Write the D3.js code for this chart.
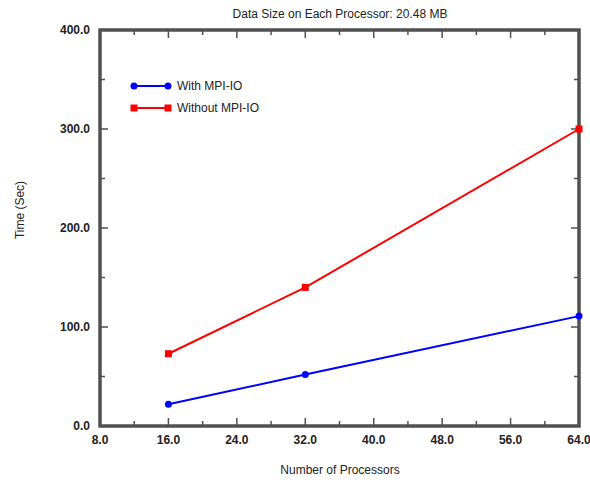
<!DOCTYPE html>
<html>
<head>
<meta charset="utf-8">
<script src="https://cdn.jsdelivr.net/npm/d3@7"></script>
<style>
  body { margin: 0; background: #fff; }
  text { font-family: "Liberation Sans", "DejaVu Sans", sans-serif; fill: #222; }
</style>
</head>
<body>
<div id="chart"></div>
<script>
// Data
var processors = [16, 32, 64];
var with_mpiio = [22, 52, 111];
var without_mpiio = [73, 140, 300];
var series_names = ['With MPI-IO', 'Without MPI-IO'];
var series_colors = ['#0000ff', '#ff0000'];
var x_ticks = [8, 16, 24, 32, 40, 48, 56, 64];
var y_ticks = [0, 100, 200, 300, 400];

var width = 590, height = 483;
var margin = { left: 100, right: 11, top: 30, bottom: 57 };
var plot_w = width - margin.left - margin.right;
var plot_h = height - margin.top - margin.bottom;

var svg = d3.select( '#chart' ).append( 'svg' )
  .attr( 'width', width )
  .attr( 'height', height );

var g = svg.append( 'g' )
  .attr( 'transform', 'translate(' + margin.left + ',' + margin.top + ')' );

var x = d3.scaleLinear().domain( [8, 64] ).range( [0, plot_w] );
var y = d3.scaleLinear().domain( [0, 400] ).range( [plot_h, 0] );

var axis_color = '#505050';
var fmt = d3.format( '.1f' );

// Minor ticks every half major step
var x_minor = d3.range( 8, 64.1, 4 );
var y_minor = d3.range( 0, 400.1, 50 );

// Inward ticks on all four sides
function draw_ticks( vals, scale, horiz, at, dir ){
  vals.forEach( function( v ){
    var major = horiz ? ( v % 8 == 0 ) : ( v % 100 == 0 );
    var len = major ? 8 : 5;
    if( horiz ){
      g.append( 'line' )
        .attr( 'x1', scale( v ) ).attr( 'x2', scale( v ) )
        .attr( 'y1', at ).attr( 'y2', at + dir * len )
        .attr( 'stroke', axis_color ).attr( 'stroke-width', 1.5 );
    } else {
      g.append( 'line' )
        .attr( 'y1', scale( v ) ).attr( 'y2', scale( v ) )
        .attr( 'x1', at ).attr( 'x2', at + dir * len )
        .attr( 'stroke', axis_color ).attr( 'stroke-width', 1.5 );
    }
  });
}
draw_ticks( x_minor, x, true, plot_h, -1 );
draw_ticks( x_minor, x, true, 0, 1 );
draw_ticks( y_minor, y, false, 0, 1 );
draw_ticks( y_minor, y, false, plot_w, -1 );

// Frame
g.append( 'rect' )
  .attr( 'x', 0 ).attr( 'y', 0 )
  .attr( 'width', plot_w ).attr( 'height', plot_h )
  .attr( 'fill', 'none' )
  .attr( 'stroke', axis_color )
  .attr( 'stroke-width', 3.5 );

// Tick labels
g.selectAll( '.xlab' )
  .data( x_ticks )
  .enter().append( 'text' )
    .attr( 'x', function( d ){ return x( d ); } )
    .attr( 'y', plot_h + 18 )
    .attr( 'text-anchor', 'middle' )
    .style( 'font-size', '12px' )
    .style( 'font-weight', 'bold' )
    .text( function( d ){ return fmt( d ); } );

g.selectAll( '.ylab' )
  .data( y_ticks )
  .enter().append( 'text' )
    .attr( 'x', -10 )
    .attr( 'y', function( d ){ return y( d ) + 4; } )
    .attr( 'text-anchor', 'end' )
    .style( 'font-size', '12px' )
    .style( 'font-weight', 'bold' )
    .text( function( d ){ return fmt( d ); } );

// Titles
svg.append( 'text' )
  .attr( 'x', 340 ).attr( 'y', 18 )
  .attr( 'text-anchor', 'middle' )
  .style( 'font-size', '12px' )
  .text( 'Data Size on Each Processor: 20.48 MB' );

svg.append( 'text' )
  .attr( 'x', 340 ).attr( 'y', 474 )
  .attr( 'text-anchor', 'middle' )
  .style( 'font-size', '12px' )
  .text( 'Number of Processors' );

svg.append( 'text' )
  .attr( 'transform', 'translate(24, 210) rotate(-90)' )
  .attr( 'text-anchor', 'middle' )
  .style( 'font-size', '12px' )
  .text( 'Time (Sec)' );

// Lines and markers
var all_series = [with_mpiio, without_mpiio];
var line = d3.line()
  .x( function( d, i ){ return x( processors[i] ); } )
  .y( function( d ){ return y( d ); } );

all_series.forEach( function( vals, s ){
  g.append( 'path' )
    .datum( vals )
    .attr( 'd', line )
    .attr( 'fill', 'none' )
    .attr( 'stroke', series_colors[s] )
    .attr( 'stroke-width', 2 );
  vals.forEach( function( v, i ){
    if( s == 0 ){
      g.append( 'circle' )
        .attr( 'cx', x( processors[i] ) ).attr( 'cy', y( v ) )
        .attr( 'r', 3.5 ).attr( 'fill', series_colors[s] );
    } else {
      g.append( 'rect' )
        .attr( 'x', x( processors[i] ) - 3.5 ).attr( 'y', y( v ) - 3.5 )
        .attr( 'width', 7 ).attr( 'height', 7 )
        .attr( 'fill', series_colors[s] );
    }
  });
});

// Legend
series_names.forEach( function( name, s ){
  var ly = 86 + s * 22;
  svg.append( 'line' )
    .attr( 'x1', 134 ).attr( 'x2', 168 )
    .attr( 'y1', ly ).attr( 'y2', ly )
    .attr( 'stroke', series_colors[s] ).attr( 'stroke-width', 2 );
  [134, 168].forEach( function( lx ){
    if( s == 0 ){
      svg.append( 'circle' ).attr( 'cx', lx ).attr( 'cy', ly ).attr( 'r', 3.5 ).attr( 'fill', series_colors[s] );
    } else {
      svg.append( 'rect' ).attr( 'x', lx - 3.5 ).attr( 'y', ly - 3.5 ).attr( 'width', 7 ).attr( 'height', 7 ).attr( 'fill', series_colors[s] );
    }
  });
  svg.append( 'text' )
    .attr( 'x', 177 ).attr( 'y', ly + 4 )
    .style( 'font-size', '12px' )
    .text( name );
});
</script>
</body>
</html>
